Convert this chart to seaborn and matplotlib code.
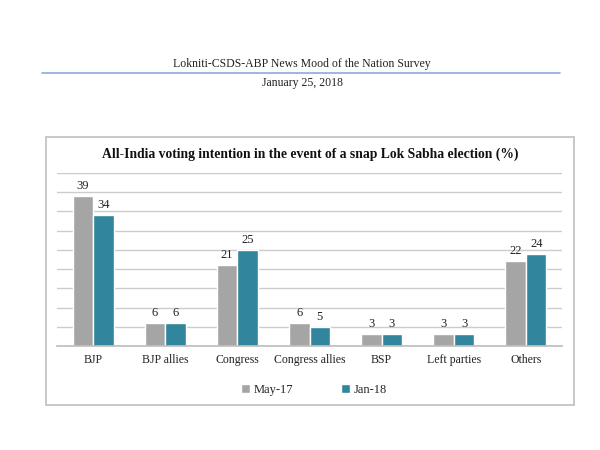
import numpy as np
import pandas as pd
import matplotlib
matplotlib.use("Agg")
import matplotlib.pyplot as plt
import seaborn as sns
from matplotlib.patches import Rectangle
from matplotlib.lines import Line2D

# chart data
parties = ["BJP", "BJP allies", "Congress", "Congress allies", "BSP", "Left parties", "Others"]
may17 = [39, 6, 21, 6, 3, 3, 22]
jan18 = [34, 6, 25, 5, 3, 3, 24]
periods = ["May-17", "Jan-18"]

df = pd.DataFrame({
    "party": parties * 2,
    "value": may17 + jan18,
    "period": [periods[0]] * len(parties) + [periods[1]] * len(parties),
})

sns.set_theme(style="white")
plt.rcParams["font.family"] = ["Liberation Serif", "DejaVu Serif"]

W, H = 600, 450
fig = plt.figure(figsize=(6, 4.5), dpi=100)

# page header
fig.text(302 / W, 1 - 64 / H, "Lokniti-CSDS-ABP News Mood of the Nation Survey",
         ha="center", va="center", fontsize=8.5, color="#222222")
fig.add_artist(Line2D([42 / W, 560 / W], [1 - 73 / H, 1 - 73 / H],
                      color="#8eaadb", lw=1.2))
fig.text(302 / W, 1 - 83 / H, "January 25, 2018", ha="center", va="center",
         fontsize=8.5, color="#222222")

# chart frame
fig.add_artist(Rectangle((45.5 / W, 1 - 405 / H), (574 - 45.5) / W, (405 - 137) / H,
                         fill=False, edgecolor="#bfbfbf", lw=1.2))
fig.text(310 / W, 1 - 154 / H,
         "All-India voting intention in the event of a snap Lok Sabha election (%)",
         ha="center", va="center", fontsize=9.8, fontweight="bold", color="#111111")

ax = fig.add_axes([57 / W, 1 - 346 / H, (562 - 57) / W, (346 - 173) / H])
sns.barplot(data=df, x="party", y="value", hue="period", palette=["#a5a5a5", "#31859c"],
            width=0.57, saturation=1, ax=ax)

for cont in ax.containers:
    ax.bar_label(cont, padding=3, fontsize=9, color="#222222")

ax.set_ylim(0, 45)
ax.set_yticks(np.arange(0, 46, 5))
ax.set_yticklabels([])
ax.tick_params(axis="y", length=0)
ax.yaxis.grid(True, color="#cccccc", lw=1)
ax.set_axisbelow(True)
ax.set_xlim(-0.5, len(parties) - 0.5)
ax.set_xlabel("")
ax.set_ylabel("")
for s in ["top", "right", "left"]:
    ax.spines[s].set_visible(False)
ax.spines["bottom"].set_color("#bfbfbf")
ax.tick_params(axis="x", length=0, labelsize=8.5, labelcolor="#222222", pad=6)
ax.set_xticks(np.arange(-0.5, len(parties), 1), minor=True)
ax.tick_params(axis="x", which="minor", length=4, color="#bfbfbf", direction="out")

handles, labels = ax.get_legend_handles_labels()
ax.get_legend().remove()
fig.legend(handles, labels, loc="center", bbox_to_anchor=(314 / W, 1 - 390 / H),
           ncol=2, frameon=False, fontsize=9, handlelength=0.7, handleheight=0.7,
           handletextpad=0.3, columnspacing=3.8)

fig.savefig("out.png", dpi=100)
